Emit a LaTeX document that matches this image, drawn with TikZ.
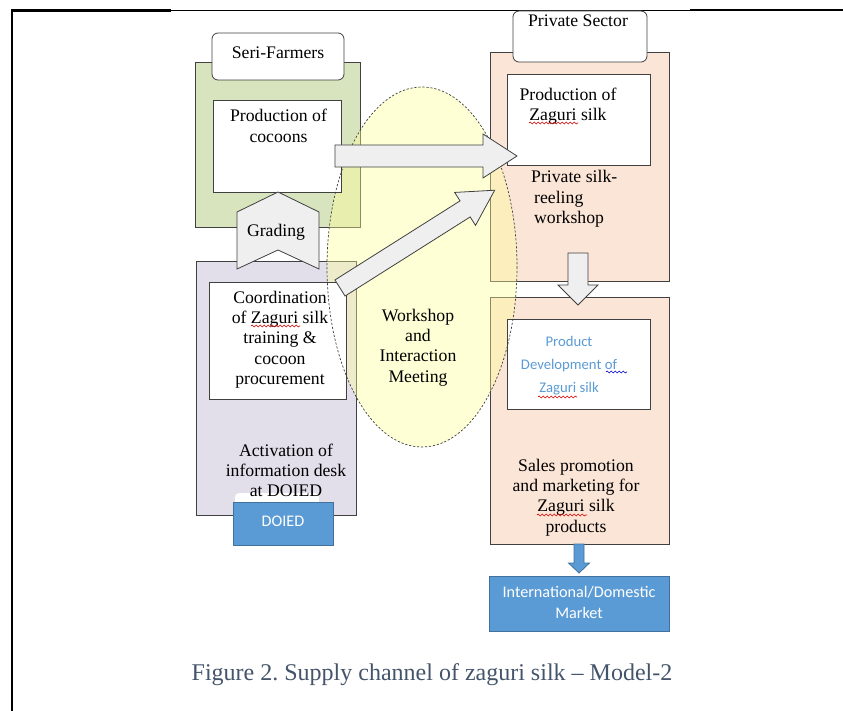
\documentclass[tikz,border=0pt]{standalone}
\usepackage{fontspec}
\setmainfont{Liberation Serif}
\newfontfamily\calib{Carlito}
\usetikzlibrary{decorations.pathmorphing}
\frenchspacing

\definecolor{frgreen}{HTML}{D7E4BD}
\definecolor{frlav}{HTML}{E2DEEA}
\definecolor{frpeach}{HTML}{FBE5D6}
\definecolor{frgrey}{HTML}{EFEFEF}
\definecolor{frline}{HTML}{404040}
\definecolor{frblue}{HTML}{5B9BD5}
\definecolor{frblueline}{HTML}{41719C}
\definecolor{fryellow}{HTML}{FFFF99}
\definecolor{frcaption}{HTML}{44546A}

\tikzset{
  outerbox/.style={draw=frline, line width=0.8pt, rectangle, inner sep=0pt},
  innerbox/.style={draw=frline, line width=0.8pt, fill=white, rectangle, inner sep=0pt},
  headbox/.style={draw=frline, line width=0.8pt, fill=white, rectangle, rounded corners=6pt, inner sep=0pt},
  bluebox/.style={draw=frblueline, line width=0.8pt, fill=frblue, rectangle, inner sep=0pt},
  txt/.style={inner sep=0pt, align=center, font=\fontsize{17.7}{20.3}\selectfont},
  calibtxt/.style={inner sep=0pt, align=center, font=\calib\fontsize{16.2}{21}\selectfont},
  greyarrow/.style={draw=frline, line width=0.8pt, fill=frgrey},
  bluearrow/.style={draw=frblueline, line width=0.8pt, fill=frblue},
  redsquig/.style={draw=red!85!black, line width=0.6pt, decorate,
    decoration={snake, amplitude=1pt, segment length=4pt}},
  bluesquig/.style={redsquig, draw=blue!80!black},
  pics/blockarrow/.style args={#1/#2/#3/#4}{
    code={\draw[pic actions] (0,-#2) -- ({#1-#4},-#2) -- ({#1-#4},-#3) -- (#1,0)
      -- ({#1-#4},#3) -- ({#1-#4},#2) -- (0,#2) -- cycle;}
  }
}

\begin{document}
\begin{tikzpicture}[x=1pt, y=-1pt]
\useasboundingbox (0,0) rectangle (843,711);

% page frame
\draw[line width=2.6pt] (12,711) -- (12,10.5) -- (171,10.5);
\draw[line width=0.8pt] (171,10) -- (690,10);
\draw[line width=2.4pt] (690,10) -- (843,10);

% outer group boxes
\node[outerbox, fill=frgreen, minimum width=165pt, minimum height=165pt] (farmers) at (277.5,144.5) {};
\node[outerbox, fill=frlav, minimum width=160pt, minimum height=254pt] (doiedgrp) at (276,388) {};
\node[outerbox, fill=frpeach, minimum width=179pt, minimum height=229pt] (reeling) at (579.5,166.5) {};
\node[outerbox, fill=frpeach, minimum width=179pt, minimum height=247pt] (sales) at (579.5,420.5) {};

% workshop ellipse, translucent fill
\fill[fryellow, opacity=0.4] (422,267) ellipse [x radius=95, y radius=180];

% header tabs
\node[headbox, minimum width=132pt, minimum height=47pt] (serihead) at (278,56.5) {};
\node[headbox, minimum width=134pt, minimum height=51pt] (privhead) at (580,36.5) {};
% DOIED tab peeking out above its box
\fill[white, rounded corners=4pt] (235,493) rectangle (319,510);

% inner white boxes
\node[innerbox, minimum width=128pt, minimum height=92pt] (cocoons) at (277,146) {};
\node[innerbox, minimum width=137pt, minimum height=117pt] (coord) at (277.5,340.5) {};
\node[innerbox, minimum width=143pt, minimum height=91pt] (silk) at (578.5,119.5) {};
\node[innerbox, minimum width=143pt, minimum height=90pt] (devel) at (578.5,364) {};

% ellipse outline
\draw[frline, line width=0.7pt, dash pattern=on 2.2pt off 1.8pt] (422,267) ellipse [x radius=95, y radius=180];
\node[txt] (workshop) at (418,347.5) {Workshop\\and\\Interaction\\Meeting};

% texts
\node[txt] (seritxt) at (278,53) {Seri-Farmers};
\node[txt] (privtxt) at (578,21) {Private Sector};
\node[txt] (cocoontxt) at (278.5,126) {Production of\\cocoons};
\node[txt] (coordtxt) at (280,339.5) {Coordination\\of Zaguri silk\\training \&\\cocoon\\procurement};
\node[txt] (desktxt) at (286,470.5) {Activation of\\information desk\\at DOIED};
\node[txt] (silktxt) at (568,106) {Production of\\Zaguri silk};
\node[txt, align=left, anchor=west] (reeltxt) at (531,199) {Private silk-\\\hspace*{3pt}reeling\\\hspace*{3pt}workshop};
\node[txt] (salestxt) at (576,497.5) {Sales promotion\\and marketing for\\Zaguri silk\\products};
\node[calibtxt, text=frblue, font=\calib\fontsize{14.7}{23}\selectfont] (develtxt) at (569,366) {Product\\Development of\\Zaguri silk};

% spell-check marks
\draw[redsquig] (251,326) -- (300,326);
\draw[redsquig] (529,123) -- (578,123);
\draw[redsquig] (538,397) -- (577,397);
\draw[bluesquig] (606,372) -- (627,372);
\draw[redsquig] (537,515) -- (587,515);

% grading chevron
\draw[greyarrow] (237,212) -- (278,192) -- (319,212) -- (319,269) -- (278,250) -- (237,269) -- cycle;
\node[txt] (grading) at (276,232) {Grading};

% block arrows
\pic[greyarrow] (toreel) at (335,156) {blockarrow={182/11/22/34}};
\pic[greyarrow, rotate=32.3] (tosilk) at (340,288) {blockarrow={183/9.5/19.5/35}};
\pic[greyarrow, rotate=-90] (tosales) at (578,253) {blockarrow={52/10/20/20}};
\pic[bluearrow, rotate=-90] (tomarket) at (579,544) {blockarrow={29/5/10.5/10}};

% DOIED and market boxes
\node[bluebox, minimum width=100pt, minimum height=43pt] (doied) at (283,523.5) {};
\node[calibtxt, text=white] (doiedtxt) at (283,521) {DOIED};
\node[bluebox, minimum width=180pt, minimum height=55pt] (market) at (579,603.5) {};
\node[calibtxt, text=white] (markettxt) at (579,602) {International/Domestic\\Market};

% caption
\node[inner sep=0pt, text=frcaption, font=\fontsize{24}{28}\selectfont] (caption) at (432,675) {Figure 2. Supply channel of zaguri silk -- Model-2};
\end{tikzpicture}
\end{document}
